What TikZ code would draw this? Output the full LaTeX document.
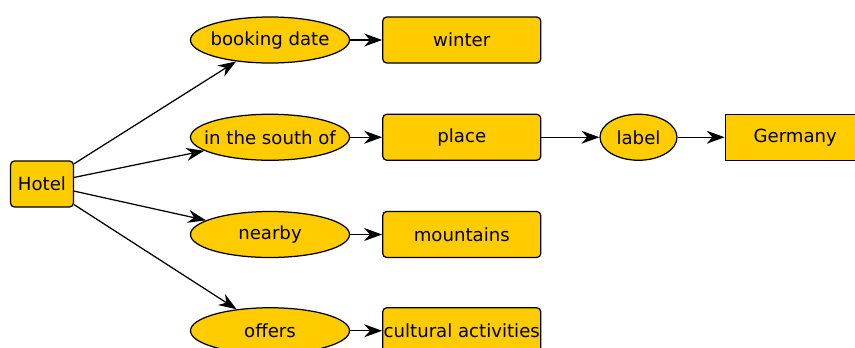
\documentclass[tikz,border=0pt]{standalone}
\usepackage{fontspec}
\setmainfont{DejaVu Sans}
\usetikzlibrary{positioning}
\usetikzlibrary{shapes}
\usetikzlibrary{arrows.meta}
\definecolor{nodeyellow}{RGB}{255,204,0}

\begin{document}
\begin{tikzpicture}[x=1bp, y=-1bp, node distance=50bp, line width=1.25bp,
		font=\fontsize{18.2}{22}\selectfont,
		>={Stealth[length=18bp, width=13bp]},
		box/.style={draw, rectangle, rounded corners=4bp, fill=nodeyellow,
			minimum width=158bp, minimum height=46bp, inner xsep=0pt,
			inner ysep=1bp},
		oval/.style={draw, ellipse, fill=nodeyellow, minimum width=159bp,
			minimum height=46bp, inner xsep=-14bp, inner ysep=0pt}]
		\useasboundingbox (0,0) rectangle (855,347);
		\node (hotel) [box, minimum width=63bp] at (42,184) {Hotel}; \node
		(booking) [oval] at (270,40) {booking date}; \node (south) [oval,
		below=50bp of booking] {in the south of}; \node (nearby) [oval,
		below=50bp of south] {nearby}; \node (offers) [oval, below=49bp of
		nearby] {offers}; \node (winter) [box, right=32bp of booking]
		{winter}; \node (place) [box, right=32bp of south] {place}; \node
		(mountains) [box, right=32bp of nearby] {mountains}; \node (culture)
		[box, right=32bp of offers] {cultural activities}; \node (label)
		[oval, minimum width=77bp, right=58bp of place] {label}; \node
		(germany) [box, sharp corners, minimum width=140bp, right=47bp of
		label] {Germany};
		\draw[->] (hotel) -- (booking); \draw[->] (hotel) -- (south);
		\draw[->] (hotel) -- (nearby); \draw[->] (hotel) -- (offers);
		\draw[->] (booking) -- (winter); \draw[->] (south) -- (place);
		\draw[->] (nearby) -- (mountains); \draw[->] (offers) -- (culture);
		\draw[->] (place) -- (label); \draw[->] (label) -- (germany);
	\end{tikzpicture}
\end{document}
